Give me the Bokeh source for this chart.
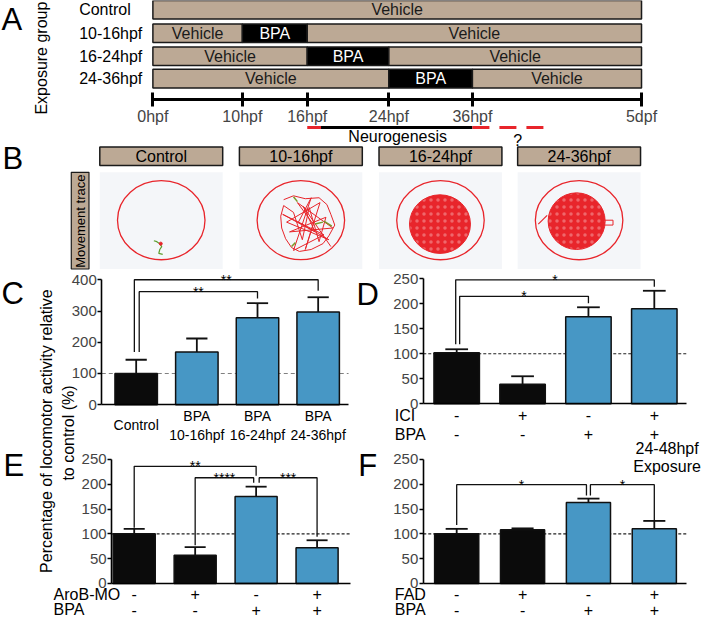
import math
from bokeh.plotting import figure
from bokeh.models import Range1d, LinearAxis, FixedTicker
from bokeh.core.properties import value
from bokeh.embed import file_html
from bokeh.resources import INLINE

FONT = "Liberation Sans"

# ---------------- data ----------------
# Panel A: exposure schedule
exposure_groups = ["Control", "10-16hpf", "16-24hpf", "24-36hpf"]
timeline_labels = ["0hpf", "10hpf", "16hpf", "24hpf", "36hpf", "5dpf"]
bpa_window_start = [None, "10hpf", "16hpf", "24hpf"]
bpa_window_end = [None, "16hpf", "24hpf", "36hpf"]
neurogenesis_window = ["16hpf", "36hpf"]

# Panel B: movement traces
trace_groups = ["Control", "10-16hpf", "16-24hpf", "24-36hpf"]

# Panel C
c_labels = ["Control", "BPA\n10-16hpf", "BPA\n16-24hpf", "BPA\n24-36hpf"]
c_bpa = ["-", "+", "+", "+"]
c_mean = [100, 169, 278, 297]
c_sem = [44, 43, 47, 47]
c_sig = [(0, 3, "**"), (0, 2, "**")]

# Panel D
d_ici = ["-", "+", "-", "+"]
d_bpa = ["-", "-", "+", "+"]
d_mean = [102, 39, 174, 190]
d_sem = [7, 16, 19, 36]
d_sig = [(0, 3, "*"), (0, 2, "*")]

# Panel E
e_arob = ["-", "+", "-", "+"]
e_bpa = ["-", "-", "+", "+"]
e_mean = [100, 57, 175, 72]
e_sem = [10, 16, 20, 15]
e_sig = [(0, 2, "**"), (1, 2, "****"), (2, 3, "***")]

# Panel F
f_fad = ["-", "+", "-", "+"]
f_bpa = ["-", "-", "+", "+"]
f_mean = [100, 108, 163, 110]
f_sem = [10, 3, 8, 16]
f_sig = [(0, 2, "*"), (2, 3, "*")]

# ---------------- styles ----------------
TAN = "#bca995"
BLUE = "#4797c5"
RED = "#e8252b"
PANEL_BG = "#f4f6f9"

X0, X1 = 2.0, 715.0
YB, YT = 639.0, 3.0
W, H = 701, 621

p = figure(width=W, height=H, x_range=Range1d(X0, X1), y_range=Range1d(YB, YT),
           output_backend="svg", toolbar_location=None,
           x_axis_location=None, y_axis_location=None,
           min_border=0, min_border_left=0, min_border_right=0,
           min_border_top=0, min_border_bottom=0,
           outline_line_color=None, background_fill_color="white")
p.xgrid.visible = False
p.ygrid.visible = False


def txt(x, y, t, size="16px", align="center", baseline="middle", color="black",
        angle=0.0, xr="default", yr="default"):
    p.text(x=x, y=y, text=t, text_font=value(FONT), text_font_size=size,
           text_align=align, text_baseline=baseline, text_color=color,
           angle=angle, x_range_name=xr, y_range_name=yr)


# panel letters
txt([3, 4, 3, 364, 5, 366], [22, 165, 303, 304, 479, 479],
    ["A", "B", "C", "D", "E", "F"], size="31px", align="left")

# ---------------- Panel A ----------------
tick_x = [157, 248, 314, 397, 482, 654]
pos = dict(zip(timeline_labels, tick_x))
row_y = [12.5, 36.5, 60.0, 83.0]
row_h = 19

lefts, rights, ys, fills, mids, labs, labc = [], [], [], [], [], [], []
for s, e, y in zip(bpa_window_start, bpa_window_end, row_y):
    if s is None:
        segs = [(timeline_labels[0], timeline_labels[-1], "Vehicle")]
    else:
        segs = [(timeline_labels[0], s, "Vehicle"), (s, e, "BPA"),
                (e, timeline_labels[-1], "Vehicle")]
    for a, b, kind in segs:
        lefts.append(pos[a]); rights.append(pos[b]); ys.append(y)
        fills.append("black" if kind == "BPA" else TAN)
        mids.append((pos[a] + pos[b]) / 2); labs.append(kind)
        labc.append("white" if kind == "BPA" else "#1a1a1a")
p.hbar(y=ys, left=lefts, right=rights, height=row_h, fill_color=fills,
       line_color="#1a1a1a", line_width=1.5)
txt(mids, ys, labs, color=labc)
txt([82] * 4, row_y, exposure_groups, align="left")
txt([44], [62], ["Exposure group"], angle=math.pi / 2)

tl_axis = LinearAxis(fixed_location=104,
                     ticker=FixedTicker(ticks=tick_x, minor_ticks=[]),
                     major_label_overrides={t: l for t, l in zip(tick_x, timeline_labels)},
                     bounds=(tick_x[0], tick_x[-1]),
                     axis_line_width=3, major_tick_line_width=3,
                     major_tick_in=7, major_tick_out=7, major_label_standoff=2,
                     major_label_text_font=FONT, major_label_text_font_size="16px",
                     minor_tick_line_color=None)
p.add_layout(tl_axis, "below")

n0 = pos[neurogenesis_window[0]]
n1 = pos[neurogenesis_window[1]]
p.segment(x0=[n0], y0=[133], x1=[n0 + 14], y1=[133], line_color=RED, line_width=3)
p.segment(x0=[n0 + 14], y0=[133], x1=[n1], y1=[133], line_color="black", line_width=3)
p.segment(x0=[n1], y0=[133], x1=[n1 + 80], y1=[133], line_color=RED, line_width=3,
          line_dash="17 10")
txt([406], [142], ["Neurogenesis"])
txt([528], [146], ["?"])

# ---------------- Panel B ----------------
box_l = [103, 245, 387, 528]
box_w = 125
p.quad(left=box_l, right=[b + box_w for b in box_l], top=[153] * 4, bottom=[172] * 4,
       fill_color=TAN, line_color="#1a1a1a", line_width=1.5)
txt([b + box_w / 2 for b in box_l], [162.5] * 4, trace_groups)
p.quad(left=box_l, right=[b + box_w for b in box_l], top=[179] * 4, bottom=[278] * 4,
       fill_color=PANEL_BG, line_color=None)
p.quad(left=[74], right=[92], top=[179], bottom=[278], fill_color=TAN,
       line_color="#1a1a1a", line_width=1.2)
txt([83], [229], ["Movement trace"], size="13px", angle=math.pi / 2)
cx = [b + box_w / 2 for b in box_l]
p.ellipse(x=cx, y=[228] * 4, width=89, height=81, fill_color=None,
          line_color=RED, line_width=1.3)

# control trace
p.line(x=[158, 161, 164, 166, 164, 163, 167], y=[249, 250, 252, 255, 258, 262, 263],
       line_color="#5d9e2e", line_width=1.2)
p.scatter(x=[165], y=[252], size=3, color=RED)
# 10-16hpf trace
t1x = [290, 300, 312, 326, 334, 338, 342, 336, 330, 318, 306, 298, 292, 288, 287, 290,
       300, 309, 316, 326, 333, 296, 340, 304, 320, 312, 327, 293, 336, 305, 318, 300,
       331, 289, 322, 310, 338]
t1y = [207, 203, 206, 205, 212, 222, 233, 244, 252, 258, 260, 256, 247, 236, 224, 213,
       220, 248, 215, 250, 225, 240, 236, 210, 232, 258, 210, 230, 248, 230, 205, 259,
       243, 222, 240, 214, 255]
p.line(x=t1x, y=t1y, line_color=RED, line_width=1)
p.multi_line(xs=[[322, 330], [331, 339], [300, 304], [298, 302]],
             ys=[[232, 230], [229, 234], [204, 209], [255, 251]],
             line_color="#7a9a2a", line_width=1.5)
# 16-24hpf / 24-36hpf dense traces
p.ellipse(x=[449, 588], y=[232, 229], width=[62, 58], height=[60, 58],
          fill_color=RED, line_color=RED, hatch_pattern="dot", hatch_color="white",
          hatch_alpha=0.3, hatch_scale=7, hatch_weight=1)
p.segment(x0=[549], y0=[232], x1=[558], y1=[223], line_color=RED, line_width=1.2)
p.quad(left=[613], right=[625], top=[228], bottom=[233], fill_color=None,
       line_color=RED, line_width=1)

# ---------------- charts ----------------
def chart(name, cx0, dx, zy, k, ax_l, ax_r, bw, ymax, ystep, mean, sem, bpa,
          dash_color, dash):
    nx, ny = name + "x", name + "y"
    p.extra_x_ranges[nx] = Range1d((X0 - cx0) / dx, (X1 - cx0) / dx)
    p.extra_y_ranges[ny] = Range1d((zy - YB) / k, (zy - YT) / k)
    idx = list(range(len(mean)))
    il = (ax_l - cx0) / dx
    ir = (ax_r - cx0) / dx
    fills = [BLUE if b == "+" else "#0b0b0b" for b in bpa]
    top = [m + s for m, s in zip(mean, sem)]
    p.line(x=[il, ir], y=[100, 100], line_color=dash_color, line_width=1.2,
           line_dash=dash, x_range_name=nx, y_range_name=ny)
    p.vbar(x=idx, top=mean, bottom=0, width=bw, fill_color=fills, line_color="#111111",
           line_width=1.5, x_range_name=nx, y_range_name=ny)
    p.segment(x0=idx, y0=mean, x1=idx, y1=top, line_color="#111111", line_width=1.8,
              x_range_name=nx, y_range_name=ny)
    cw = bw * 0.25
    p.segment(x0=[i - cw for i in idx], y0=top, x1=[i + cw for i in idx], y1=top,
              line_color="#111111", line_width=1.8, x_range_name=nx, y_range_name=ny)
    yax = LinearAxis(x_range_name=nx, y_range_name=ny, fixed_location=il,
                     bounds=(0, ymax),
                     ticker=FixedTicker(ticks=list(range(0, ymax + 1, ystep)), minor_ticks=[]),
                     axis_line_width=1.6, major_tick_line_width=1.6,
                     major_tick_in=0, major_tick_out=4, major_label_standoff=1,
                     minor_tick_line_color=None,
                     major_label_text_font=FONT, major_label_text_font_size="15px")
    p.add_layout(yax, "left")
    xax = LinearAxis(x_range_name=nx, y_range_name=ny, fixed_location=0,
                     bounds=(il, ir), ticker=FixedTicker(ticks=[], minor_ticks=[]),
                     axis_line_width=1.6, major_tick_line_color=None,
                     minor_tick_line_color=None, major_label_text_font_size="0px")
    p.add_layout(xax, "below")
    return nx, ny


# bracket layout (x in bar-index units, y in data units): left x, right x, top, left foot, right foot
c_br = [(-0.03, 3, 400, 169, 365), (0.05, 2, 362, 169, 340)]
d_br = [(-0.015, 3, 248, 119, 234), (0.045, 2, 215, 119, 201)]
e_br = [(0, 2, 236, 112, 217), (1, 1.96, 213, 77, 203), (2.05, 3, 213, 203, 94)]
f_br = [(0, 1.97, 199, 118, 177), (2.03, 3, 199, 177, 128)]


def brackets(nx, ny, sig, geo):
    xs, ys, sx, sy, st = [], [], [], [], []
    for (i, j, lab), (xl, xr, t, lb, rb) in zip(sig, geo):
        xs.append([xl, xl, xr, xr]); ys.append([lb, t, t, rb])
        sx.append((xl + xr) / 2); sy.append(t); st.append(lab)
    p.multi_line(xs=xs, ys=ys, line_color="#111111", line_width=1.3,
                 x_range_name=nx, y_range_name=ny)
    txt(sx, sy, st, size="14px", baseline="alphabetic", xr=nx, yr=ny)


nx, ny = chart("C", 140, 61.7, 417, 0.32, 105, 356, 0.70, 400, 100,
               c_mean, c_sem, c_bpa, "#808080", "4 3")
brackets(nx, ny, c_sig, c_br)
txt(list(range(4)), [438] * 4, c_labels, size="14px", xr=nx)

nx, ny = chart("D", 466, 67, 416, 0.512, 432, 700, 0.69, 250, 50,
               d_mean, d_sem, d_bpa, "#222222", "3 2")
brackets(nx, ny, d_sig, d_br)
txt(list(range(4)), [428] * 4, d_ici, size="16px", xr=nx)
txt(list(range(4)), [447] * 4, d_bpa, size="16px", xr=nx)
txt([403, 403], [428, 447], ["ICI", "BPA"], align="left")

nx, ny = chart("E", 138, 62, 600, 0.508, 115, 358, 0.69, 250, 50,
               e_mean, e_sem, e_bpa, "#222222", "3 2")
brackets(nx, ny, e_sig, e_br)
txt(list(range(4)), [611] * 4, e_arob, size="16px", xr=nx)
txt(list(range(4)), [627] * 4, e_bpa, size="16px", xr=nx)
txt([56, 56], [611, 627], ["AroB-MO", "BPA"], align="left")

nx, ny = chart("F", 466, 67, 600, 0.508, 432, 700, 0.67, 250, 50,
               f_mean, f_sem, f_bpa, "#222222", "3 2")
brackets(nx, ny, f_sig, f_br)
txt(list(range(4)), [611] * 4, f_fad, size="16px", xr=nx)
txt(list(range(4)), [627] * 4, f_bpa, size="16px", xr=nx)
txt([403, 403], [611, 627], ["FAD", "BPA"], align="left")
txt([680, 680], [462, 480], ["24-48hpf", "Exposure"], size="16px")

# shared y title
txt([49], [444], ["Percentage of locomotor activity relative"], angle=math.pi / 2)
txt([71], [446], ["to control (%)"], angle=math.pi / 2)

open("out.html", "w").write(file_html(p, INLINE))
